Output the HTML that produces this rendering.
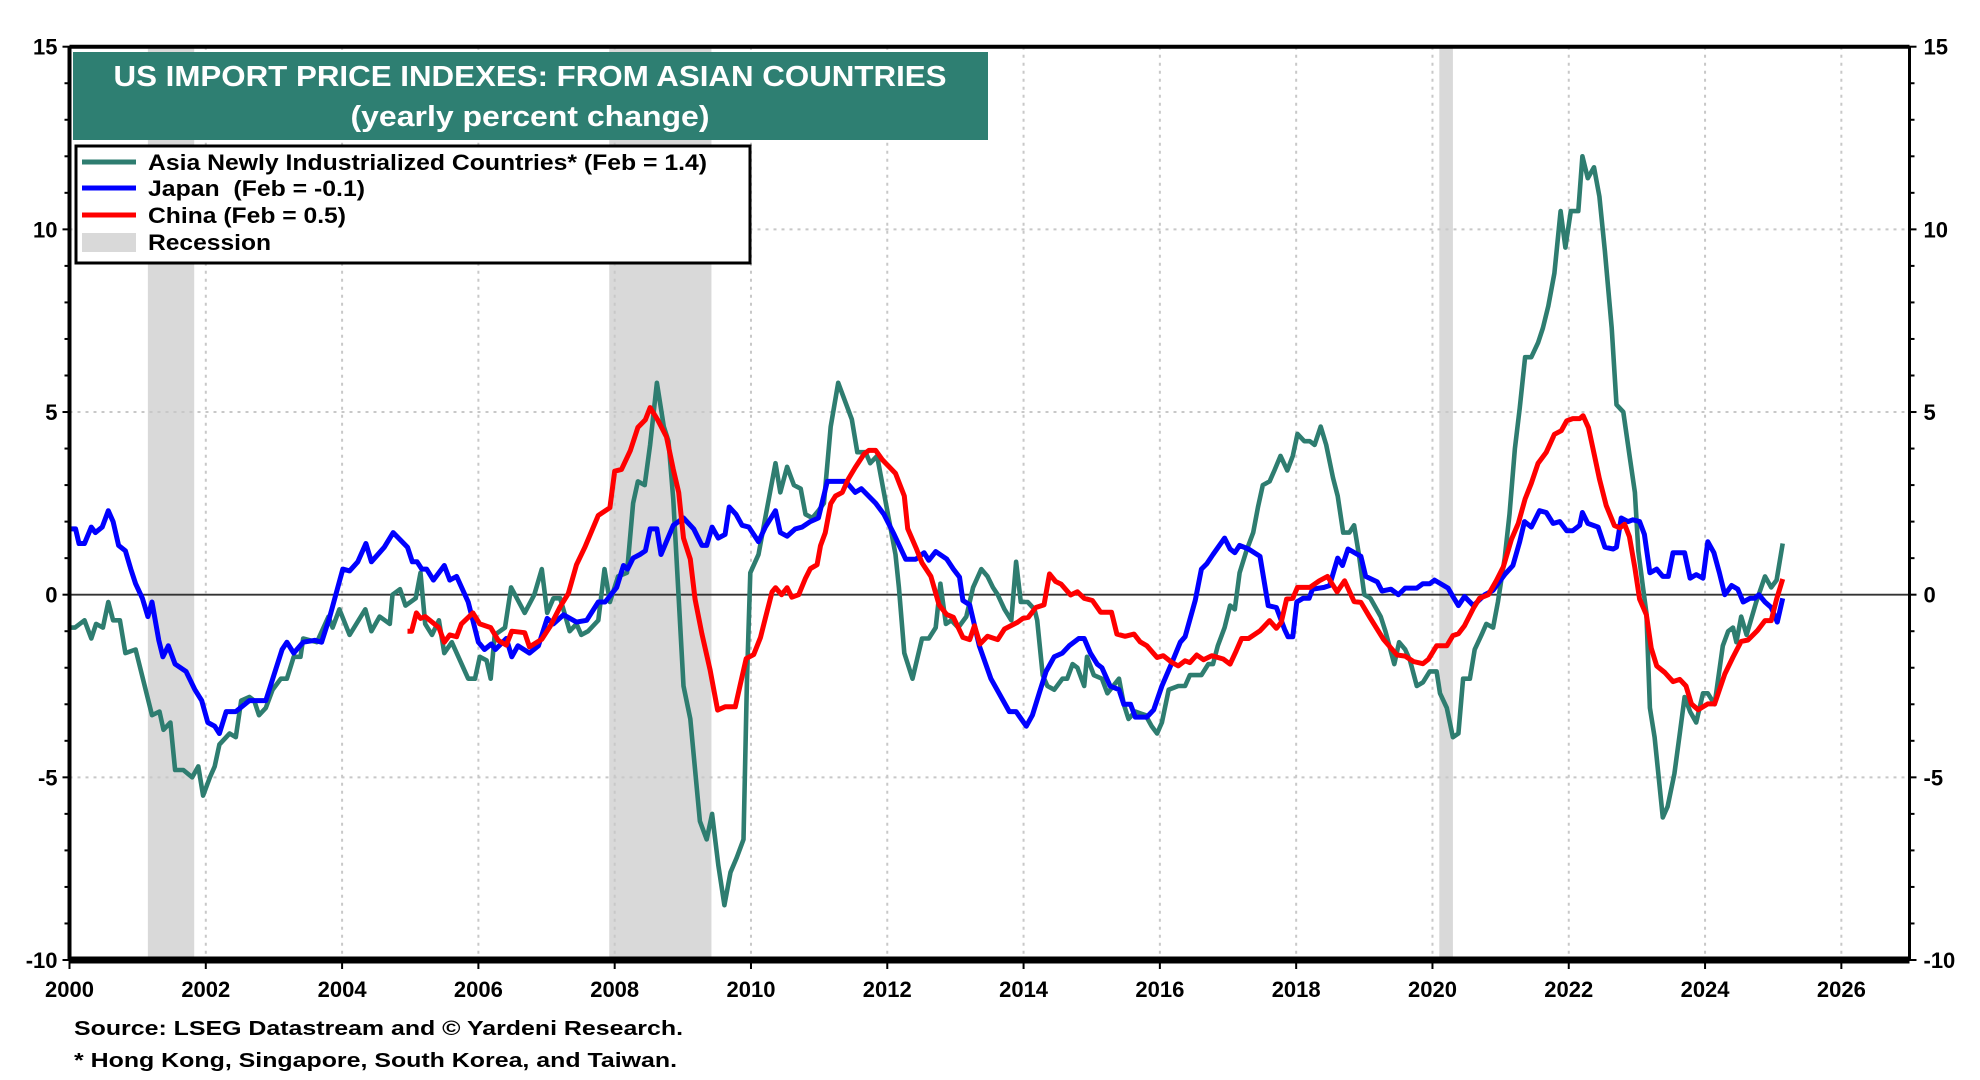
<!DOCTYPE html>
<html><head><meta charset="utf-8"><style>
html,body{margin:0;padding:0;background:#fff;}
svg{display:block;font-family:"Liberation Sans",Arial,sans-serif;font-weight:bold;}
</style></head><body>
<svg id="chart" width="1980" height="1080" viewBox="0 0 1980 1080" xmlns="http://www.w3.org/2000/svg">
<g id="recessions"></g>
<g id="grid"></g>
<g id="series"></g>
<g id="axes"></g>
<g>
<rect x="73" y="52" width="915" height="88" fill="#2e7f72"/>
<text x="530" y="86" text-anchor="middle" font-size="29" fill="#fff" textLength="833" lengthAdjust="spacingAndGlyphs">US IMPORT PRICE INDEXES: FROM ASIAN COUNTRIES</text>
<text x="530" y="126" text-anchor="middle" font-size="29" fill="#fff" textLength="359" lengthAdjust="spacingAndGlyphs">(yearly percent change)</text>
</g>
<g>
<rect x="76" y="146" width="674" height="117" fill="#fff" stroke="#000" stroke-width="3"/>
<g><line x1="82" y1="162" x2="136" y2="162" stroke="#2e7d70" stroke-width="5"/><text x="148" y="170" font-size="22" textLength="559" lengthAdjust="spacingAndGlyphs">Asia Newly Industrialized Countries* (Feb = 1.4)</text></g>
<g><line x1="82" y1="188" x2="136" y2="188" stroke="#0000ff" stroke-width="5"/><text x="148" y="196" font-size="22" textLength="217" lengthAdjust="spacingAndGlyphs">Japan&#160; (Feb = -0.1)</text></g>
<g><line x1="82" y1="215" x2="136" y2="215" stroke="#ff0000" stroke-width="5"/><text x="148" y="223" font-size="22" textLength="198" lengthAdjust="spacingAndGlyphs">China (Feb = 0.5)</text></g>
<g><rect x="82" y="233" width="54" height="19" fill="#d9d9d9"/><text x="148" y="250" font-size="22" textLength="123" lengthAdjust="spacingAndGlyphs">Recession</text></g>
</g>
<text x="74" y="1035" font-size="20" textLength="609" lengthAdjust="spacingAndGlyphs">Source: LSEG Datastream and © Yardeni Research.</text>
<text x="74" y="1067" font-size="20" textLength="603" lengthAdjust="spacingAndGlyphs">* Hong Kong, Singapore, South Korea, and Taiwan.</text>
</svg>
<script>
const recStart=[2001.15,2007.92,2020.1];
const recEnd=[2001.83,2009.42,2020.3];
const yTicks=[15,10,5,0,-5,-10];
const yTickLabels=["15","10","5","0","-5","-10"];
const xTicks=[2000,2002,2004,2006,2008,2010,2012,2014,2016,2018,2020,2022,2024,2026];

const asiaYears=[2000,2000.08,2000.22,2000.32,2000.39,2000.49,2000.57,2000.64,2000.74,2000.82,2000.97,2001.21,2001.32,2001.38,2001.48,2001.55,2001.67,2001.8,2001.89,2001.96,2002.06,2002.13,2002.2,2002.35,2002.44,2002.52,2002.64,2002.71,2002.78,2002.88,2002.98,2003.1,2003.19,2003.29,2003.39,2003.43,2003.63,2003.8,2003.86,2003.96,2004.11,2004.34,2004.43,2004.55,2004.7,2004.74,2004.85,2004.93,2005.08,2005.15,2005.22,2005.32,2005.42,2005.5,2005.61,2005.85,2005.95,2006.02,2006.12,2006.18,2006.24,2006.39,2006.48,2006.68,2006.82,2006.93,2007.01,2007.1,2007.2,2007.34,2007.44,2007.51,2007.61,2007.76,2007.85,2007.93,2008.05,2008.18,2008.27,2008.34,2008.44,2008.52,2008.62,2008.72,2008.79,2008.86,2008.94,2009.01,2009.11,2009.25,2009.35,2009.43,2009.52,2009.61,2009.7,2009.79,2009.89,2009.94,2009.99,2010.11,2010.24,2010.36,2010.43,2010.53,2010.63,2010.73,2010.8,2010.9,2010.99,2011.07,2011.17,2011.28,2011.48,2011.56,2011.68,2011.75,2011.85,2011.98,2012.12,2012.17,2012.25,2012.37,2012.51,2012.61,2012.71,2012.78,2012.86,2012.94,2013.04,2013.16,2013.26,2013.38,2013.47,2013.55,2013.62,2013.72,2013.82,2013.89,2013.96,2014.06,2014.16,2014.2,2014.28,2014.35,2014.45,2014.57,2014.64,2014.72,2014.79,2014.89,2014.93,2015.03,2015.15,2015.23,2015.4,2015.47,2015.54,2015.64,2015.79,2015.88,2015.96,2016.03,2016.13,2016.27,2016.37,2016.44,2016.61,2016.71,2016.78,2016.85,2016.95,2017.03,2017.1,2017.17,2017.27,2017.37,2017.44,2017.51,2017.61,2017.68,2017.77,2017.87,2017.95,2018.02,2018.12,2018.2,2018.27,2018.36,2018.44,2018.54,2018.61,2018.69,2018.78,2018.85,2018.92,2019.0,2019.09,2019.24,2019.31,2019.44,2019.51,2019.6,2019.67,2019.77,2019.86,2019.96,2020.06,2020.11,2020.21,2020.3,2020.38,2020.45,2020.55,2020.62,2020.72,2020.79,2020.89,2020.96,2021.06,2021.13,2021.21,2021.28,2021.36,2021.45,2021.55,2021.62,2021.7,2021.79,2021.88,2021.95,2022.03,2022.14,2022.2,2022.28,2022.37,2022.45,2022.53,2022.63,2022.7,2022.8,2022.9,2022.97,2023.02,2023.09,2023.14,2023.19,2023.26,2023.38,2023.45,2023.55,2023.63,2023.7,2023.78,2023.87,2023.97,2024.04,2024.14,2024.26,2024.34,2024.41,2024.46,2024.53,2024.61,2024.75,2024.88,2024.97,2025.05,2025.14];
const asiaValues=[-0.9,-0.9,-0.7,-1.2,-0.8,-0.9,-0.2,-0.7,-0.7,-1.6,-1.5,-3.3,-3.2,-3.7,-3.5,-4.8,-4.8,-5.0,-4.7,-5.5,-5.0,-4.7,-4.1,-3.8,-3.9,-2.9,-2.8,-2.9,-3.3,-3.1,-2.6,-2.3,-2.3,-1.7,-1.7,-1.2,-1.3,-0.6,-0.9,-0.4,-1.1,-0.4,-1.0,-0.6,-0.8,0.0,0.15,-0.3,-0.1,0.6,-0.8,-1.1,-0.7,-1.6,-1.3,-2.3,-2.3,-1.7,-1.8,-2.3,-1.1,-0.9,0.2,-0.5,0.0,0.7,-0.5,-0.1,-0.1,-1.0,-0.8,-1.1,-1.0,-0.7,0.7,-0.2,0.5,0.6,2.5,3.1,3.0,4.1,5.8,4.6,4.2,2.6,-0.1,-2.5,-3.4,-6.2,-6.7,-6.0,-7.4,-8.5,-7.6,-7.2,-6.7,-2.4,0.6,1.1,2.4,3.6,2.8,3.5,3.0,2.9,2.2,2.1,2.3,2.5,4.6,5.8,4.8,3.9,3.9,3.6,3.8,2.5,1.1,0.2,-1.6,-2.3,-1.2,-1.2,-0.9,0.3,-0.8,-0.7,-0.9,-0.6,0.2,0.7,0.5,0.2,0.0,-0.4,-0.7,0.9,-0.2,-0.2,-0.4,-0.7,-2.2,-2.5,-2.6,-2.3,-2.3,-1.9,-2.0,-2.5,-1.7,-2.2,-2.3,-2.7,-2.3,-3.0,-3.4,-3.2,-3.3,-3.6,-3.8,-3.5,-2.6,-2.5,-2.5,-2.2,-2.2,-1.9,-1.9,-1.4,-0.9,-0.3,-0.4,0.6,1.2,1.7,2.4,3.0,3.1,3.4,3.8,3.4,3.8,4.4,4.2,4.2,4.1,4.6,4.1,3.2,2.7,1.7,1.7,1.9,1.1,0.0,-0.1,-0.6,-1.0,-1.9,-1.3,-1.5,-1.8,-2.5,-2.4,-2.1,-2.1,-2.7,-3.1,-3.9,-3.8,-2.3,-2.3,-1.5,-1.1,-0.8,-0.9,-0.2,1.0,2.2,4.0,5.1,6.5,6.5,6.9,7.3,7.9,8.8,10.5,9.5,10.5,10.5,12.0,11.4,11.7,10.9,9.4,7.3,5.2,5.0,3.7,2.8,1.2,0.2,-0.5,-3.1,-3.9,-6.1,-5.8,-4.9,-3.8,-2.8,-3.2,-3.5,-2.7,-2.7,-3.0,-1.4,-1.0,-0.9,-1.3,-0.6,-1.1,-0.2,0.5,0.2,0.4,1.4];

const japanYears=[2000,2000.09,2000.14,2000.22,2000.32,2000.38,2000.48,2000.57,2000.64,2000.72,2000.82,2000.9,2000.97,2001.07,2001.15,2001.21,2001.31,2001.37,2001.45,2001.55,2001.71,2001.84,2001.94,2002.03,2002.13,2002.2,2002.3,2002.44,2002.64,2002.78,2002.88,2003.0,2003.12,2003.19,2003.29,2003.43,2003.6,2003.7,2003.82,2004.01,2004.11,2004.23,2004.35,2004.43,2004.62,2004.75,2004.96,2005.03,2005.1,2005.17,2005.24,2005.34,2005.5,2005.58,2005.68,2005.85,2006.0,2006.09,2006.19,2006.25,2006.41,2006.49,2006.58,2006.75,2006.88,2007.01,2007.1,2007.25,2007.44,2007.59,2007.76,2007.86,2008.03,2008.13,2008.19,2008.27,2008.37,2008.45,2008.52,2008.62,2008.68,2008.86,2009.01,2009.16,2009.28,2009.35,2009.43,2009.52,2009.62,2009.68,2009.78,2009.87,2009.97,2010.11,2010.21,2010.36,2010.43,2010.53,2010.65,2010.75,2010.87,2010.99,2011.12,2011.29,2011.39,2011.53,2011.62,2011.83,2011.95,2012.1,2012.27,2012.42,2012.54,2012.61,2012.71,2012.87,2012.97,2013.06,2013.11,2013.21,2013.35,2013.52,2013.79,2013.89,2014.04,2014.13,2014.23,2014.33,2014.45,2014.57,2014.67,2014.81,2014.89,2014.98,2015.08,2015.15,2015.27,2015.4,2015.47,2015.57,2015.64,2015.81,2015.91,2016.03,2016.18,2016.3,2016.37,2016.52,2016.61,2016.69,2016.78,2016.95,2017.03,2017.1,2017.17,2017.3,2017.47,2017.59,2017.71,2017.83,2017.88,2017.95,2018.01,2018.1,2018.19,2018.24,2018.41,2018.49,2018.61,2018.68,2018.76,2018.95,2019.02,2019.19,2019.26,2019.39,2019.5,2019.6,2019.77,2019.86,2019.96,2020.03,2020.23,2020.3,2020.38,2020.47,2020.6,2020.77,2020.89,2020.96,2021.06,2021.18,2021.28,2021.35,2021.45,2021.57,2021.67,2021.77,2021.87,2021.97,2022.06,2022.16,2022.2,2022.28,2022.43,2022.53,2022.65,2022.7,2022.77,2022.87,2022.94,2023.04,2023.11,2023.19,2023.29,2023.38,2023.46,2023.53,2023.7,2023.78,2023.87,2023.97,2024.04,2024.13,2024.21,2024.29,2024.39,2024.48,2024.56,2024.66,2024.73,2024.79,2024.88,2024.97,2025.06,2025.14];
const japanValues=[1.8,1.8,1.4,1.4,1.85,1.7,1.85,2.3,2.0,1.35,1.2,0.7,0.3,-0.1,-0.6,-0.2,-1.25,-1.7,-1.4,-1.9,-2.1,-2.6,-2.9,-3.5,-3.6,-3.8,-3.2,-3.2,-2.9,-2.9,-2.9,-2.2,-1.5,-1.3,-1.6,-1.3,-1.25,-1.3,-0.6,0.7,0.65,0.9,1.4,0.9,1.3,1.7,1.3,0.9,0.9,0.7,0.7,0.4,0.8,0.4,0.5,-0.2,-1.3,-1.5,-1.35,-1.5,-1.2,-1.7,-1.4,-1.6,-1.4,-0.65,-0.8,-0.55,-0.75,-0.7,-0.2,-0.2,0.2,0.8,0.7,1.0,1.1,1.2,1.8,1.8,1.1,1.9,2.1,1.8,1.35,1.35,1.85,1.55,1.65,2.4,2.2,1.9,1.85,1.45,1.85,2.3,1.7,1.6,1.8,1.85,2.0,2.1,3.1,3.1,3.1,2.8,2.9,2.5,2.2,1.65,0.97,0.97,1.15,0.94,1.18,0.98,0.7,0.48,-0.16,-0.28,-1.4,-2.3,-3.2,-3.2,-3.6,-3.3,-2.7,-2.1,-1.7,-1.6,-1.4,-1.2,-1.2,-1.6,-1.9,-2.0,-2.5,-2.6,-3.0,-3.0,-3.35,-3.35,-3.15,-2.5,-1.85,-1.3,-1.15,-0.15,0.7,0.85,1.1,1.55,1.25,1.15,1.35,1.25,1.05,-0.3,-0.35,-0.95,-1.15,-1.15,-0.2,-0.1,-0.1,0.15,0.2,0.25,1.0,0.8,1.25,1.05,0.5,0.35,0.1,0.15,0.0,0.18,0.18,0.3,0.3,0.4,0.18,-0.05,-0.3,-0.05,-0.3,0.0,0.12,0.3,0.55,0.8,1.45,2.0,1.85,2.3,2.25,1.95,2.0,1.75,1.75,1.9,2.25,1.95,1.85,1.3,1.25,1.3,2.1,2.0,2.05,2.0,1.65,0.6,0.7,0.5,0.5,1.15,1.15,0.45,0.55,0.45,1.45,1.15,0.6,0.0,0.25,0.15,-0.2,-0.1,-0.1,0.0,-0.2,-0.35,-0.75,-0.1];

const chinaYears=[2004.96,2005.02,2005.09,2005.15,2005.22,2005.42,2005.5,2005.58,2005.68,2005.75,2005.92,2006.02,2006.18,2006.29,2006.41,2006.49,2006.68,2006.75,2006.93,2007.05,2007.2,2007.32,2007.44,2007.56,2007.76,2007.93,2008.0,2008.1,2008.23,2008.34,2008.45,2008.52,2008.63,2008.76,2008.86,2008.94,2009.01,2009.11,2009.18,2009.28,2009.4,2009.51,2009.62,2009.77,2009.84,2009.93,2010.04,2010.14,2010.21,2010.31,2010.36,2010.45,2010.53,2010.6,2010.7,2010.8,2010.87,2010.97,2011.02,2011.09,2011.17,2011.24,2011.34,2011.43,2011.53,2011.66,2011.73,2011.83,2011.93,2012.12,2012.25,2012.3,2012.42,2012.51,2012.64,2012.76,2012.87,2012.97,2013.11,2013.21,2013.28,2013.36,2013.47,2013.62,2013.72,2013.91,2013.99,2014.07,2014.18,2014.3,2014.38,2014.47,2014.55,2014.69,2014.79,2014.89,2015.01,2015.13,2015.29,2015.37,2015.49,2015.62,2015.71,2015.81,2015.96,2016.05,2016.18,2016.27,2016.37,2016.44,2016.54,2016.64,2016.76,2016.93,2017.03,2017.12,2017.2,2017.3,2017.47,2017.61,2017.71,2017.78,2017.86,2017.95,2018.02,2018.2,2018.34,2018.46,2018.6,2018.71,2018.85,2018.95,2019.08,2019.28,2019.48,2019.6,2019.72,2019.86,2019.94,2020.06,2020.21,2020.3,2020.38,2020.47,2020.6,2020.69,2020.82,2020.94,2021.04,2021.16,2021.26,2021.36,2021.45,2021.55,2021.67,2021.79,2021.89,2021.97,2022.06,2022.16,2022.21,2022.29,2022.38,2022.45,2022.55,2022.67,2022.75,2022.82,2022.89,2022.97,2023.04,2023.14,2023.21,2023.29,2023.41,2023.53,2023.63,2023.72,2023.8,2023.9,2024.04,2024.14,2024.29,2024.41,2024.53,2024.63,2024.77,2024.88,2024.97,2025.05,2025.14];
const chinaValues=[-1.0,-1.0,-0.5,-0.65,-0.6,-0.9,-1.3,-1.1,-1.15,-0.8,-0.5,-0.8,-0.9,-1.25,-1.38,-1.0,-1.04,-1.43,-1.22,-0.88,-0.33,0.03,0.82,1.29,2.17,2.38,3.38,3.43,3.95,4.58,4.79,5.12,4.79,4.32,3.43,2.8,1.55,0.97,-0.13,-1.07,-2.06,-3.16,-3.07,-3.07,-2.48,-1.75,-1.64,-1.17,-0.65,0.08,0.19,0.0,0.19,-0.07,0.0,0.45,0.71,0.82,1.34,1.7,2.49,2.7,2.8,3.17,3.48,3.85,3.95,3.95,3.69,3.32,2.7,1.81,1.29,0.87,0.5,-0.28,-0.54,-0.62,-1.17,-1.23,-0.85,-1.35,-1.14,-1.23,-0.94,-0.76,-0.65,-0.62,-0.35,-0.28,0.57,0.36,0.29,-0.01,0.08,-0.1,-0.16,-0.48,-0.48,-1.08,-1.14,-1.08,-1.29,-1.4,-1.72,-1.67,-1.86,-1.95,-1.81,-1.86,-1.65,-1.78,-1.67,-1.76,-1.9,-1.54,-1.2,-1.2,-0.99,-0.71,-0.92,-0.76,-0.12,-0.1,0.2,0.2,0.38,0.5,0.08,0.38,-0.19,-0.21,-0.62,-1.22,-1.65,-1.68,-1.83,-1.89,-1.77,-1.4,-1.4,-1.12,-1.07,-0.85,-0.37,-0.1,0.0,0.39,0.76,1.52,1.95,2.62,3.05,3.6,3.9,4.39,4.49,4.76,4.82,4.82,4.9,4.57,3.78,3.17,2.44,1.89,1.83,1.93,1.59,0.73,-0.12,-0.55,-1.46,-1.95,-2.13,-2.38,-2.32,-2.5,-2.99,-3.15,-2.99,-2.99,-2.17,-1.71,-1.28,-1.24,-0.98,-0.71,-0.71,-0.12,0.43];

const X0=69.5, X1=1909.5, XMIN=2000, XMAX=2027;
const Y0=46.7, Y1=960, YMAX=15, YMIN=-10;
function xScale(v){return X0+(v-XMIN)/(XMAX-XMIN)*(X1-X0);}
function yScale(v){return Y0+(YMAX-v)/(YMAX-YMIN)*(Y1-Y0);}
const NS="http://www.w3.org/2000/svg";
function mk(tag,attrs,parent){const e=document.createElementNS(NS,tag);for(const k in attrs)e.setAttribute(k,attrs[k]);parent.appendChild(e);return e;}

const rec=document.getElementById('recessions');
for(let i=0;i<recStart.length;i++){
  const r=mk('rect',{x:xScale(recStart[i]),y:Y0,width:xScale(recEnd[i])-xScale(recStart[i]),height:Y1-Y0,fill:'#d9d9d9'},rec);
  
  
}
const grid=document.getElementById('grid');
yTicks.forEach(v=>{
  if(v===YMAX||v===YMIN)return;
  const l=mk('line',{x1:X0,x2:X1,y1:yScale(v),y2:yScale(v),stroke:v===0?'#333':'#c8c8c8','stroke-width':v===0?1.8:2,'stroke-dasharray':v===0?'none':'3 5'},grid);
  
  
});
xTicks.forEach(v=>{
  if(v===XMIN)return;
  const l=mk('line',{x1:xScale(v),x2:xScale(v),y1:Y0,y2:Y1,stroke:'#c8c8c8','stroke-width':2,'stroke-dasharray':'3 5'},grid);
  
  
});

const series=document.getElementById('series');
function drawLine(xs,ys,color,w,name){
  let d='';
  for(let i=0;i<xs.length;i++){d+=(i?'L':'M')+xScale(xs[i]).toFixed(1)+','+yScale(ys[i]).toFixed(1);}
  const p=mk('path',{d:d,fill:'none',stroke:color,'stroke-width':w,'stroke-linejoin':'round'},series);
  
  
}
drawLine(asiaYears,asiaValues,'#2e7d70',4.6,'asia-nic-line');
drawLine(japanYears,japanValues,'#0000ff',5,'japan-line');
drawLine(chinaYears,chinaValues,'#ff0000',5,'china-line');

const ax=document.getElementById('axes');
mk('line',{x1:X0,x2:X1,y1:Y0,y2:Y0,stroke:'#000','stroke-width':4},ax);
mk('line',{x1:X0,x2:X0,y1:Y0,y2:Y1,stroke:'#000','stroke-width':4},ax);
mk('line',{x1:X1,x2:X1,y1:Y0,y2:Y1,stroke:'#000','stroke-width':3},ax);
mk('line',{x1:X0,x2:X1,y1:Y1,y2:Y1,stroke:'#000','stroke-width':7},ax);
for(let v=YMIN;v<=YMAX;v++){
  const len=(v%5===0)?7:5;
  mk('line',{x1:X0-len,x2:X0,y1:yScale(v),y2:yScale(v),stroke:'#000','stroke-width':2},ax);
  mk('line',{x1:X1,x2:X1+len,y1:yScale(v),y2:yScale(v),stroke:'#000','stroke-width':2},ax);
}
yTicks.forEach((v,i)=>{
  const t=mk('text',{x:X0-12,y:yScale(v)+8,'text-anchor':'end','font-size':22},ax);
  t.textContent=yTickLabels[i];
  
  
  const t2=mk('text',{x:X1+14,y:yScale(v)+8,'text-anchor':'start','font-size':22},ax);
  t2.textContent=yTickLabels[i];
  
  
});
xTicks.forEach(v=>{
  mk('line',{x1:xScale(v),x2:xScale(v),y1:Y1,y2:Y1+9,stroke:'#000','stroke-width':2},ax);
  const t=mk('text',{x:xScale(v),y:Y1+37,'text-anchor':'middle','font-size':22},ax);
  t.textContent=String(v);
  
  
});
</script>
</body></html>
